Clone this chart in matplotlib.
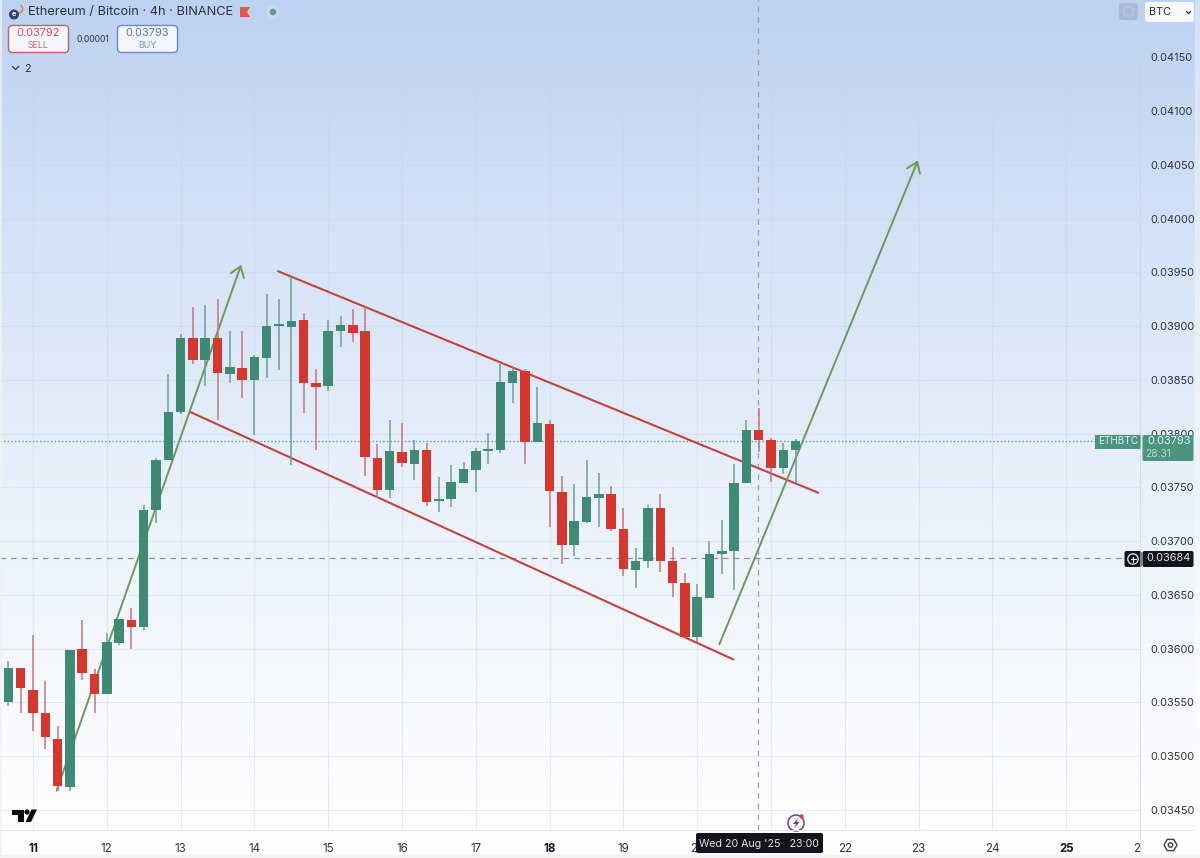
#!/usr/bin/env python
import matplotlib
matplotlib.use('Agg')
import matplotlib.pyplot as plt
from matplotlib.patches import Rectangle, FancyBboxPatch, Circle, Polygon, Wedge
from matplotlib.transforms import Bbox, blended_transform_factory
import numpy as np

plt.rcParams['font.family'] = ['Inter', 'DejaVu Sans']

# 4h candles, first one starts at day 10 + 16h
first_day = 10.0 + 4.0 / 6
opens = [0.03550, 0.03582, 0.03562, 0.03540, 0.03516, 0.03471, 0.03600, 0.03576, 0.03558, 0.03605, 0.03627, 0.03620, 0.03729,
         0.03775, 0.03820, 0.03889, 0.03868, 0.03889, 0.03855, 0.03861, 0.03850, 0.03870, 0.03900, 0.03899, 0.03906, 0.03847,
         0.03844, 0.03895, 0.03901, 0.03895, 0.03777, 0.03748, 0.03783, 0.03772, 0.03785, 0.03737, 0.03739, 0.03754, 0.03766,
         0.03784, 0.03785, 0.03847, 0.03858, 0.03792, 0.03809, 0.03746, 0.03696, 0.03718, 0.03740, 0.03744, 0.03711, 0.03673,
         0.03682, 0.03731, 0.03682, 0.03661, 0.03611, 0.03647, 0.03688, 0.03691, 0.03754, 0.03803, 0.03794, 0.03768, 0.03785]
closes = [0.03582, 0.03563, 0.03540, 0.03518, 0.03472, 0.03599, 0.03577, 0.03558, 0.03606, 0.03628, 0.03620, 0.03729, 0.03775,
          0.03820, 0.03889, 0.03868, 0.03889, 0.03856, 0.03862, 0.03850, 0.03871, 0.03900, 0.03901, 0.03905, 0.03847, 0.03843,
          0.03895, 0.03901, 0.03894, 0.03778, 0.03748, 0.03784, 0.03773, 0.03785, 0.03736, 0.03739, 0.03755, 0.03767, 0.03784,
          0.03785, 0.03848, 0.03858, 0.03792, 0.03810, 0.03747, 0.03696, 0.03719, 0.03741, 0.03744, 0.03711, 0.03674, 0.03682,
          0.03731, 0.03682, 0.03661, 0.03611, 0.03648, 0.03688, 0.03691, 0.03754, 0.03803, 0.03794, 0.03768, 0.03785, 0.03793]
highs = [0.03589, 0.03582, 0.03613, 0.03570, 0.03528, 0.03599, 0.03627, 0.03581, 0.03615, 0.03628, 0.03638, 0.03734, 0.03777,
         0.03855, 0.03893, 0.03918, 0.03920, 0.03925, 0.03895, 0.03895, 0.03873, 0.03930, 0.03925, 0.03946, 0.03912, 0.03860,
         0.03906, 0.03909, 0.03916, 0.03918, 0.03790, 0.03813, 0.03810, 0.03794, 0.03791, 0.03760, 0.03771, 0.03774, 0.03787,
         0.03801, 0.03865, 0.03862, 0.03860, 0.03843, 0.03813, 0.03761, 0.03753, 0.03775, 0.03763, 0.03751, 0.03731, 0.03694,
         0.03734, 0.03744, 0.03695, 0.03670, 0.03660, 0.03700, 0.03720, 0.03772, 0.03813, 0.03824, 0.03796, 0.03791, 0.03795]
lows = [0.03547, 0.03540, 0.03523, 0.03507, 0.03468, 0.03468, 0.03571, 0.03540, 0.03558, 0.03603, 0.03600, 0.03617, 0.03717,
        0.03775, 0.03818, 0.03865, 0.03844, 0.03813, 0.03847, 0.03833, 0.03799, 0.03852, 0.03859, 0.03771, 0.03819, 0.03785,
        0.03840, 0.03881, 0.03885, 0.03761, 0.03740, 0.03740, 0.03769, 0.03757, 0.03733, 0.03727, 0.03732, 0.03754, 0.03746,
        0.03772, 0.03782, 0.03828, 0.03772, 0.03792, 0.03713, 0.03679, 0.03686, 0.03717, 0.03713, 0.03709, 0.03668, 0.03656,
        0.03675, 0.03671, 0.03648, 0.03610, 0.03606, 0.03647, 0.03669, 0.03655, 0.03754, 0.03783, 0.03755, 0.03762, 0.03754]

# drawn trend lines (day, price)
channel_top = [(14.32, 0.03951), (21.64, 0.03745)]
channel_bottom = [(13.135, 0.03820), (20.49, 0.03590)]
arrow_first = [(11.32, 0.03468), (13.82, 0.03957)]
arrow_second = [(20.30, 0.03604), (22.99, 0.04054)]

price_ticks = [0.03450, 0.03500, 0.03550, 0.03600, 0.03650, 0.03700, 0.03750, 0.03800,
               0.03850, 0.03900, 0.03950, 0.04000, 0.04050, 0.04100, 0.04150]
day_ticks = [11, 12, 13, 14, 15, 16, 17, 18, 19, 20, 21, 22, 23, 24, 25, 26]
# 21 sits behind the crosshair date box
day_labels = ['11', '12', '13', '14', '15', '16', '17', '18', '19', '20', '', '22', '23', '24', '25', '26']
bold_days = [11, 18, 25]
last_price = 0.03793
cross_price = 0.03684
cross_day = 20.83

GREEN = '#3f8a74'
RED = '#d5372f'
GREEN_WICK = '#6f9f93'
RED_WICK = '#cc7478'
RED_LINE = '#c9403f'
GREEN_LINE = '#6c9a58'
INK = '#2b3244'
GRID = '#c9d5e6'

W, H = 1200, 858
fig = plt.figure(figsize=(W / 100.0, H / 100.0), dpi=100)

# background gradient
bg = fig.add_axes([0, 0, 1, 1], zorder=0)
rows = np.arange(H)
stops = [0, 260, 540, 800, 858]
grad = np.stack([np.interp(rows, stops, [189, 214, 236, 253, 255]),
                 np.interp(rows, stops, [209, 228, 243, 253, 255]),
                 np.interp(rows, stops, [242, 247, 252, 254, 255])], axis=1)[:, None, :] / 255.0
bg.imshow(grad, aspect='auto', extent=[0, W, H, 0])
bg.axis('off')

# chart pane: 0..1140 px wide, 0..830 px high
pane_right, pane_bottom = 1140.0, 830.0
ax = fig.add_axes([0, 1 - pane_bottom / H, pane_right / W, pane_bottom / H], zorder=1)
ax.patch.set_alpha(0)
px_day = 73.8
px_price = 53.77 / 0.0005
ax.set_xlim(11 - 33 / px_day, 26)
ax.set_ylim(0.0345 - (pane_bottom - 810) / px_price, 0.0345 + 810 / px_price)

for s in ax.spines.values():
  s.set_visible(False)
ax.set_axisbelow(True)
ax.grid(True, color=GRID, linewidth=0.8, alpha=0.45)

ax.set_xticks(day_ticks)
ax.set_xticklabels(day_labels, fontsize=8.3, color=INK)
ax.set_yticks(price_ticks)
ax.set_yticklabels(['%.5f' % p for p in price_ticks], fontsize=7.9, color=INK)
ax.yaxis.tick_right()
ax.tick_params(axis='x', length=0, pad=9)
ax.tick_params(axis='y', length=0, pad=7.2)
clip = Bbox([[0, 0], [pane_right + 1, H]])
for d, lab in zip(day_ticks, ax.get_xticklabels()):
  if d in bold_days:
    lab.set_fontweight('bold')
    lab.set_color('#131722')
  lab.set_clip_box(clip)
  lab.set_clip_on(True)

# last price / crosshair lines
ax.axhline(last_price, color='#5f9c8b', linewidth=1.0, linestyle=(0, (1, 1.6)), zorder=1.5)
ax.axhline(cross_price, color='#8a8f99', linewidth=0.9, linestyle=(0, (4.5, 4)), zorder=1.5)
ax.axvline(cross_day, color='#9a9fa9', linewidth=0.9, linestyle=(0, (4.5, 4)), zorder=1.5)

# trend lines sit under the candles
for seg in [channel_top, channel_bottom]:
  ax.plot([seg[0][0], seg[1][0]], [seg[0][1], seg[1][1]], color=RED_LINE, linewidth=1.5,
          solid_capstyle='round', zorder=2)
for seg in [arrow_first, arrow_second]:
  ax.annotate('', xy=seg[1], xytext=seg[0], zorder=2,
              arrowprops=dict(arrowstyle='->,head_length=0.7,head_width=0.5', color=GREEN_LINE,
                              linewidth=1.4, shrinkA=0, shrinkB=0))

# candles
times = [first_day + i / 6.0 for i in range(len(opens))]
for t, o, h, l, c in zip(times, opens, highs, lows, closes):
  up = c >= o
  ax.vlines(t, l, h, color=GREEN_WICK if up else RED_WICK, linewidth=1.1, zorder=3)
  ax.bar(t, max(abs(c - o), 0.00002), bottom=min(o, c), width=9.5 / px_day,
         color=GREEN if up else RED, linewidth=0, zorder=4)

# everything around the chart, in pixels
ui = fig.add_axes([0, 0, 1, 1], zorder=2)
ui.set_xlim(0, W)
ui.set_ylim(H, 0)
ui.axis('off')
by_price = blended_transform_factory(ui.transData, ax.transData)

ui.plot([pane_right, pane_right], [0, H - 3], color='#c5d0e0', linewidth=0.7, alpha=0.6)
ui.plot([0, W - 6], [pane_bottom, pane_bottom], color='#e3e8f0', linewidth=0.7)
ui.add_patch(Rectangle((0, 0), 2, H, color='#f1f1f1', alpha=0.8, linewidth=0))
ui.add_patch(Rectangle((W - 5, 0), 5, H, color='#ffffff', alpha=0.35, linewidth=0))
ui.add_patch(Rectangle((0, H - 3), W, 3, color='#f3f3f3', linewidth=0))

# header
ui.add_patch(Wedge((18.5, 9), 5, -60, 150, width=1.8, color='#e0893f', linewidth=0))
ui.add_patch(Circle((14, 14.5), 5, color='#34407a', linewidth=0))
ui.text(14, 14.3, 'e', color='white', fontsize=5.5, ha='center', va='center', fontweight='bold')
ui.text(27.5, 12, 'Ethereum / Bitcoin · 4h · BINANCE', fontsize=9.2, color=INK, va='center')
ui.add_patch(Polygon([(240, 7), (250, 7), (247, 12), (250, 17), (240, 17)], color='#e8573f', linewidth=0))
ui.add_patch(Circle((273, 12), 6.5, color='#c9dcea', linewidth=0))
ui.add_patch(Circle((273, 12), 3.3, color='#5c9b93', linewidth=0))

for x0, edge, val, name, cx, col, ncol in [(8.5, '#c9605f', '0.03792', 'SELL', 38.5, '#c8504f', '#c46a6a'),
                                           (117.5, '#6f86c8', '0.03793', 'BUY', 147.5, '#5a72ba', '#7d90c8')]:
  ui.add_patch(FancyBboxPatch((x0 + 2, 27.5), 56, 23, boxstyle='round,pad=2,rounding_size=4',
                              facecolor='#f4f6fd', edgecolor=edge, linewidth=1.0))
  ui.text(cx, 33, val, fontsize=7.9, color=col, ha='center', va='center')
  ui.text(cx, 45, name, fontsize=6.4, color=ncol, ha='center', va='center')
ui.text(93, 40, '0.00001', fontsize=6.2, color=INK, ha='center', va='center')
ui.plot([12.5, 15.5, 18.5], [66.5, 69.5, 66.5], color=INK, linewidth=0.9)
ui.text(24, 68.5, '2', fontsize=7.8, color=INK, va='center')

# top right buttons
ui.plot([1105.5, 1105.5], [7, 16], color='#c6d3e8', linewidth=0.9)
ui.plot([1102.5, 1105.5, 1108.5], [13, 16, 13], color='#c6d3e8', linewidth=0.9)
ui.add_patch(FancyBboxPatch((1120, 4), 17, 15, boxstyle='round,pad=1,rounding_size=3', facecolor='#a9bad6',
                            edgecolor='none'))
ui.add_patch(FancyBboxPatch((1124, 7), 9, 9, boxstyle='round,pad=0,rounding_size=2', facecolor='none',
                            edgecolor='#bccbe3', linewidth=0.9))
ui.add_patch(FancyBboxPatch((1146, 3), 47, 18, boxstyle='round,pad=1,rounding_size=3', facecolor='#f7f9fe',
                            edgecolor='none'))
ui.text(1149, 12, 'BTC', fontsize=7.8, color=INK, va='center')
ui.plot([1186.5, 1188.5, 1190.5], [11.5, 13.5, 11.5], color=INK, linewidth=0.9)

# last price tag
ui.add_patch(Rectangle((1095, last_price - 0.00007), 46, 0.00013, transform=by_price, color='#4c9480', linewidth=0))
ui.add_patch(FancyBboxPatch((1143, 435.5), 50, 25, boxstyle='round,pad=0.5,rounding_size=2', facecolor='#4c9480',
                            edgecolor='none'))
ui.text(1118, last_price, 'ETHBTC', transform=by_price, fontsize=7.2, color='#dff2ea', ha='center', va='center')
ui.text(1169, last_price, '%.5f' % last_price, transform=by_price, fontsize=7.9, color='#e6f5ef', ha='center', va='center')
ui.text(1158, 454, '28:31', fontsize=7.4, color='#a9dccb', ha='center', va='center')

# crosshair tags
ui.add_patch(FancyBboxPatch((1125, 551.5), 16, 15, boxstyle='round,pad=0.5,rounding_size=2', facecolor='#12151c',
                            edgecolor='none'))
ui.add_patch(FancyBboxPatch((1143, 551.5), 50, 15, boxstyle='round,pad=0.5,rounding_size=2', facecolor='#12151c',
                            edgecolor='none'))
ui.add_patch(Circle((1133, 559), 5.2, facecolor='none', edgecolor='#e8e8e8', linewidth=0.9))
ui.plot([1130.5, 1135.5], [559, 559], color='#e8e8e8', linewidth=0.8)
ui.plot([1133, 1133], [556.5, 561.5], color='#e8e8e8', linewidth=0.8)
ui.text(1169, cross_price, '%.5f' % cross_price, transform=by_price, fontsize=7.9, color='#e4e4e4', ha='center', va='center')
ui.add_patch(FancyBboxPatch((696.5, 833.5), 126, 19, boxstyle='round,pad=0.5,rounding_size=2', facecolor='#12151c',
                            edgecolor='none'))
ui.text(759, 844, "Wed 20 Aug '25   23:00", fontsize=7.6, color='#e4e4e4', ha='center', va='center')

# tv logo
ui.add_patch(Polygon([(12, 809.5), (23.5, 809.5), (23.5, 822), (17.5, 822), (17.5, 815), (12, 815)], color='#0b0b0f', linewidth=0))
ui.add_patch(Circle((27, 812), 2.6, color='#0b0b0f', linewidth=0))
ui.add_patch(Polygon([(31.5, 809.5), (37, 809.5), (31, 822), (25.5, 822)], color='#0b0b0f', linewidth=0))

# bolt marker
ui.add_patch(Circle((796, 823), 8, facecolor='#fbfbfd', edgecolor='#6a3d9a', linewidth=1.1))
ui.add_patch(Polygon([(798.5, 817.5), (793, 824), (796, 824), (794, 828.5), (799.5, 822), (796.5, 822)], color='#6a3d9a', linewidth=0))
ui.add_patch(Circle((801.5, 816.5), 2.2, color='#d6483f', linewidth=0))

# settings icon
ang = np.deg2rad(np.arange(0, 360, 60))
ui.add_patch(Polygon(np.c_[1170.5 + 6.5 * np.cos(ang), 845 + 6.5 * np.sin(ang)], closed=True, facecolor='none',
                     edgecolor='#3b4050', linewidth=1.0, joinstyle='round'))
ui.add_patch(Circle((1170.5, 845), 2.2, facecolor='none', edgecolor='#3b4050', linewidth=1.0))

plt.savefig('out.png', dpi=100)
